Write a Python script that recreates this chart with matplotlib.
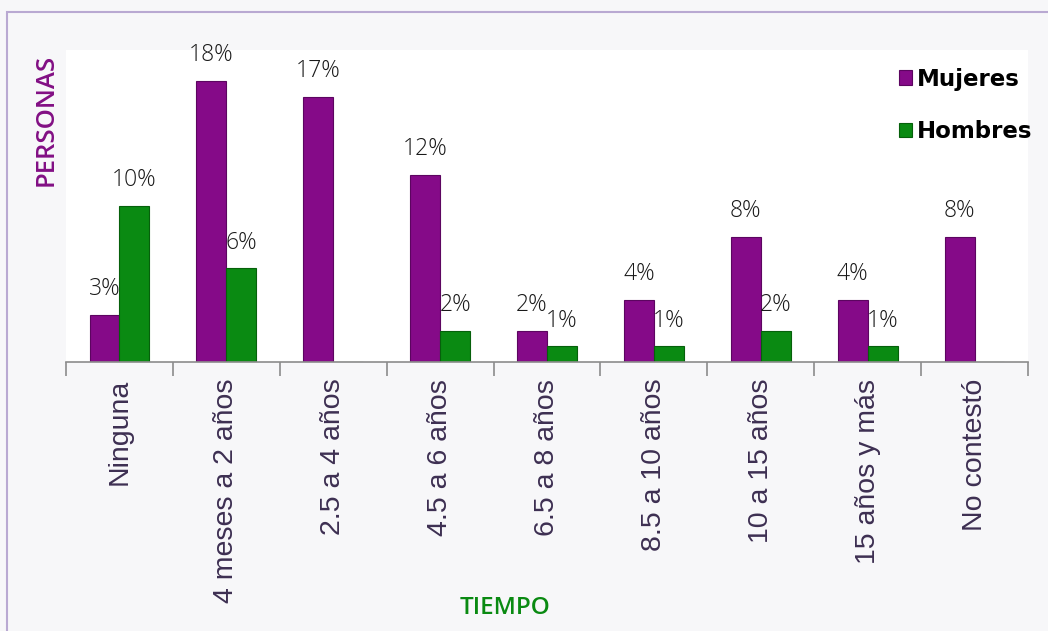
import matplotlib.pyplot as plt
from matplotlib.patches import Rectangle
import numpy as np

categorias = ['Ninguna', '4 meses a 2 años', '2.5 a 4 años', '4.5 a 6 años',
              '6.5 a 8 años', '8.5 a 10 años', '10 a 15 años', '15 años y más',
              'No contestó']
mujeres = [3, 18, 17, 12, 2, 4, 8, 4, 8]
hombres = [10, 6, 0, 2, 1, 1, 2, 1, 0]

morado = '#850a88'
verde = '#0a8a12'

fig = plt.figure(figsize=(10.48, 6.31), dpi=100)
fig.patch.set_facecolor('#f7f7f9')

# marco exterior
fig.patches.append(Rectangle((7 / 1048, -0.05), 1.1, 1 - 12 / 631 + 0.05,
                             transform=fig.transFigure, fill=False,
                             edgecolor='#b9a9d2', linewidth=1.5))

ax = fig.add_axes([66 / 1048, 1 - 362 / 631, (1028 - 66) / 1048, (362 - 50) / 631])
ax.set_facecolor('white')

x = np.arange(len(categorias))
w = 0.28
bm = ax.bar(x - w / 2, mujeres, w, color=morado, edgecolor='#5c0560', linewidth=0.8)
bh = ax.bar(x + w / 2, hombres, w, color=verde, edgecolor='#06600b', linewidth=0.8)

# etiquetas de porcentaje (sin etiqueta donde no hay barra)
for barras, vals in ((bm, mujeres), (bh, hombres)):
    for b, v in zip(barras, vals):
        if v == 0:
            continue
        ax.annotate(f'{v}%', (b.get_x() + b.get_width() / 2, v),
                    xytext=(0, 10), textcoords='offset points',
                    ha='center', va='bottom', fontsize=16.5, color='#1a1a1a',
                    family='Open Sans', fontweight='light')

ax.set_xlim(-0.5, len(categorias) - 0.5)
ax.set_ylim(0, 20)
ax.set_yticks([])
for s in ('left', 'right', 'top'):
    ax.spines[s].set_visible(False)
ax.spines['bottom'].set_color('#8c8c8c')
ax.spines['bottom'].set_linewidth(1.2)

# marcas entre categorías
ax.set_xticks(np.arange(len(categorias) + 1) - 0.5)
ax.set_xticklabels([])
ax.tick_params(axis='x', which='major', length=10, color='#8c8c8c', width=1.2)
ax.set_xticks(x, minor=True)
ax.set_xticklabels(categorias, minor=True, rotation=90, fontsize=20.5,
                   color='#3d2f52', family='Liberation Sans')
ax.tick_params(axis='x', which='minor', length=0, pad=12)

ax.legend([bm, bh], ['Mujeres', 'Hombres'], loc='upper right',
          bbox_to_anchor=(1.026, 1.01), frameon=False, handlelength=0.6,
          handleheight=0.6, handletextpad=0.2, labelspacing=1.3,
          prop={'family': 'DejaVu Sans', 'weight': 'bold', 'size': 16.5})

fig.text(46 / 1048, 1 - 120 / 631, 'PERSONAS', rotation=90, ha='center',
         va='center', color='#820f84', fontsize=18.5, family='Open Sans',
         fontweight='semibold')
fig.text(505 / 1048, 1 - 608 / 631, 'TIEMPO', ha='center', va='center',
         color='#0a8a12', fontsize=17.5, family='Open Sans', fontweight='semibold')

fig.savefig('out.png', dpi=100, facecolor=fig.get_facecolor())
